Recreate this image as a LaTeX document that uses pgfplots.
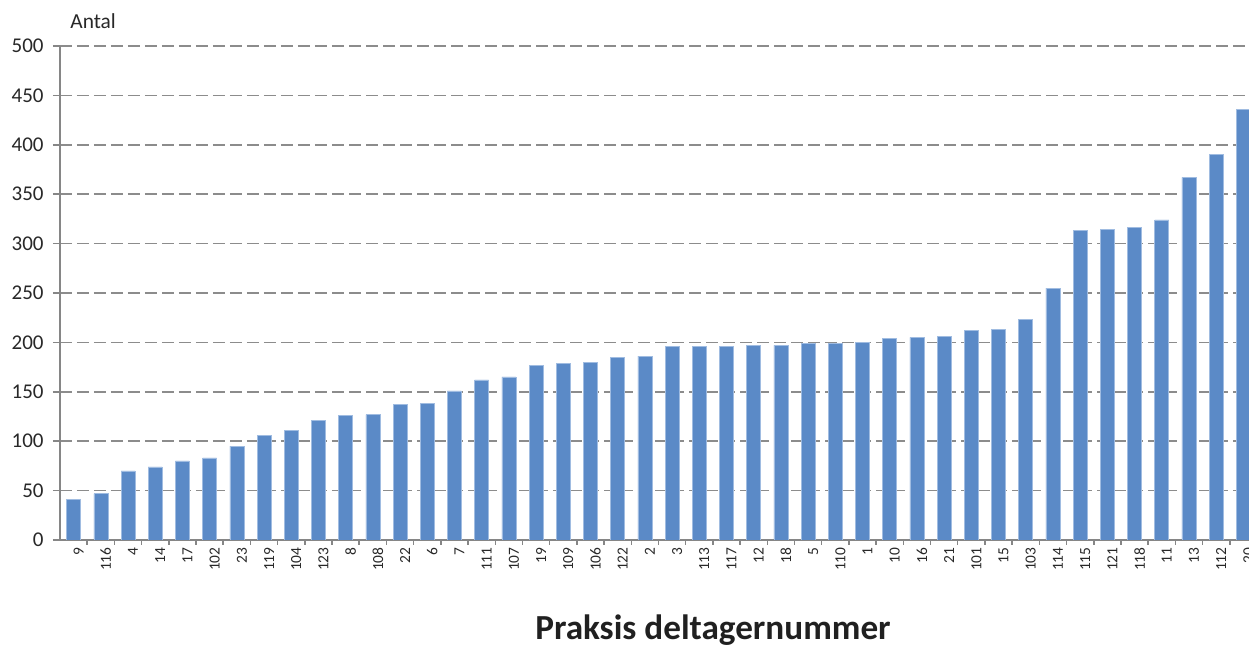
\documentclass[border=0pt]{standalone}
\usepackage{pgfplots}
\pgfplotsset{compat=1.18}
\usepackage{fontspec}
\setmainfont{Carlito}
\definecolor{barblue}{RGB}{91,138,199}
\definecolor{baredge}{RGB}{160,188,225}
\definecolor{gridgray}{RGB}{140,140,140}
\definecolor{axisgray}{RGB}{134,134,134}
\definecolor{txt}{RGB}{40,40,40}
\begin{document}
\begin{tikzpicture}
\useasboundingbox (-30pt,-54pt) rectangle (594.5pt,270pt);
\begin{axis}[
  at={(0,0)}, anchor=south west,
  scale only axis, width=598.5pt, height=247pt,
  xmin=-0.5, xmax=43.5, ymin=0, ymax=500,
  enlargelimits=false,
  axis x line*=bottom, axis y line*=left,
  axis line style={axisgray, line width=0.75pt},
  tick pos=left, tick align=outside,
  ytick={0,50,...,500},
  xtick={0,...,43},
  xticklabels={9,116,4,14,17,102,23,119,104,123,8,108,22,6,7,111,107,19,109,106,122,2,3,113,117,12,18,5,110,1,10,16,21,101,15,103,114,115,121,118,11,13,112,20},
  minor x tick num=1,
  major tick length=3.5pt, minor tick length=2.5pt,
  major x tick style={draw=none},
  minor x tick style={axisgray, line width=0.75pt},
  major y tick style={axisgray, line width=0.75pt},
  ymajorgrids,
  major grid style={gridgray, line width=0.75pt, dash pattern=on 6pt off 2.5pt},
  /pgf/number format/assume math mode=true,
  yticklabel style={font=\fontsize{10.5}{12}\selectfont, text=txt, inner sep=0pt, xshift=-4.5pt},
  xticklabel style={font=\fontsize{7.7}{9}\selectfont, text=txt, rotate=90, anchor=east, inner sep=0pt, yshift=-2.5pt},
]
\addplot[ybar, bar width=7pt, fill=barblue, draw=baredge, line width=0.3pt] coordinates {
(0,41) (1,47) (2,70) (3,74) (4,80) (5,83) (6,95) (7,106) (8,111) (9,121)
(10,126) (11,127) (12,137) (13,138) (14,151) (15,162) (16,165) (17,177) (18,179) (19,180)
(20,185) (21,186) (22,196) (23,196) (24,196) (25,197) (26,197) (27,199) (28,199) (29,200)
(30,204) (31,205) (32,206) (33,212) (34,213) (35,223) (36,255) (37,313) (38,314) (39,316)
(40,324) (41,367) (42,390) (43,436)
};
\end{axis}
\node[anchor=base west, inner sep=0pt, font=\fontsize{10.7}{12}\selectfont, text=txt] at (5pt,255.5pt) {Antal};
\node[anchor=base, inner sep=0pt, font=\fontsize{17.6}{20}\bfseries\selectfont, text=txt!80!black] at (326.5pt,-50pt) {Praksis deltagernummer};
\end{tikzpicture}
\end{document}
